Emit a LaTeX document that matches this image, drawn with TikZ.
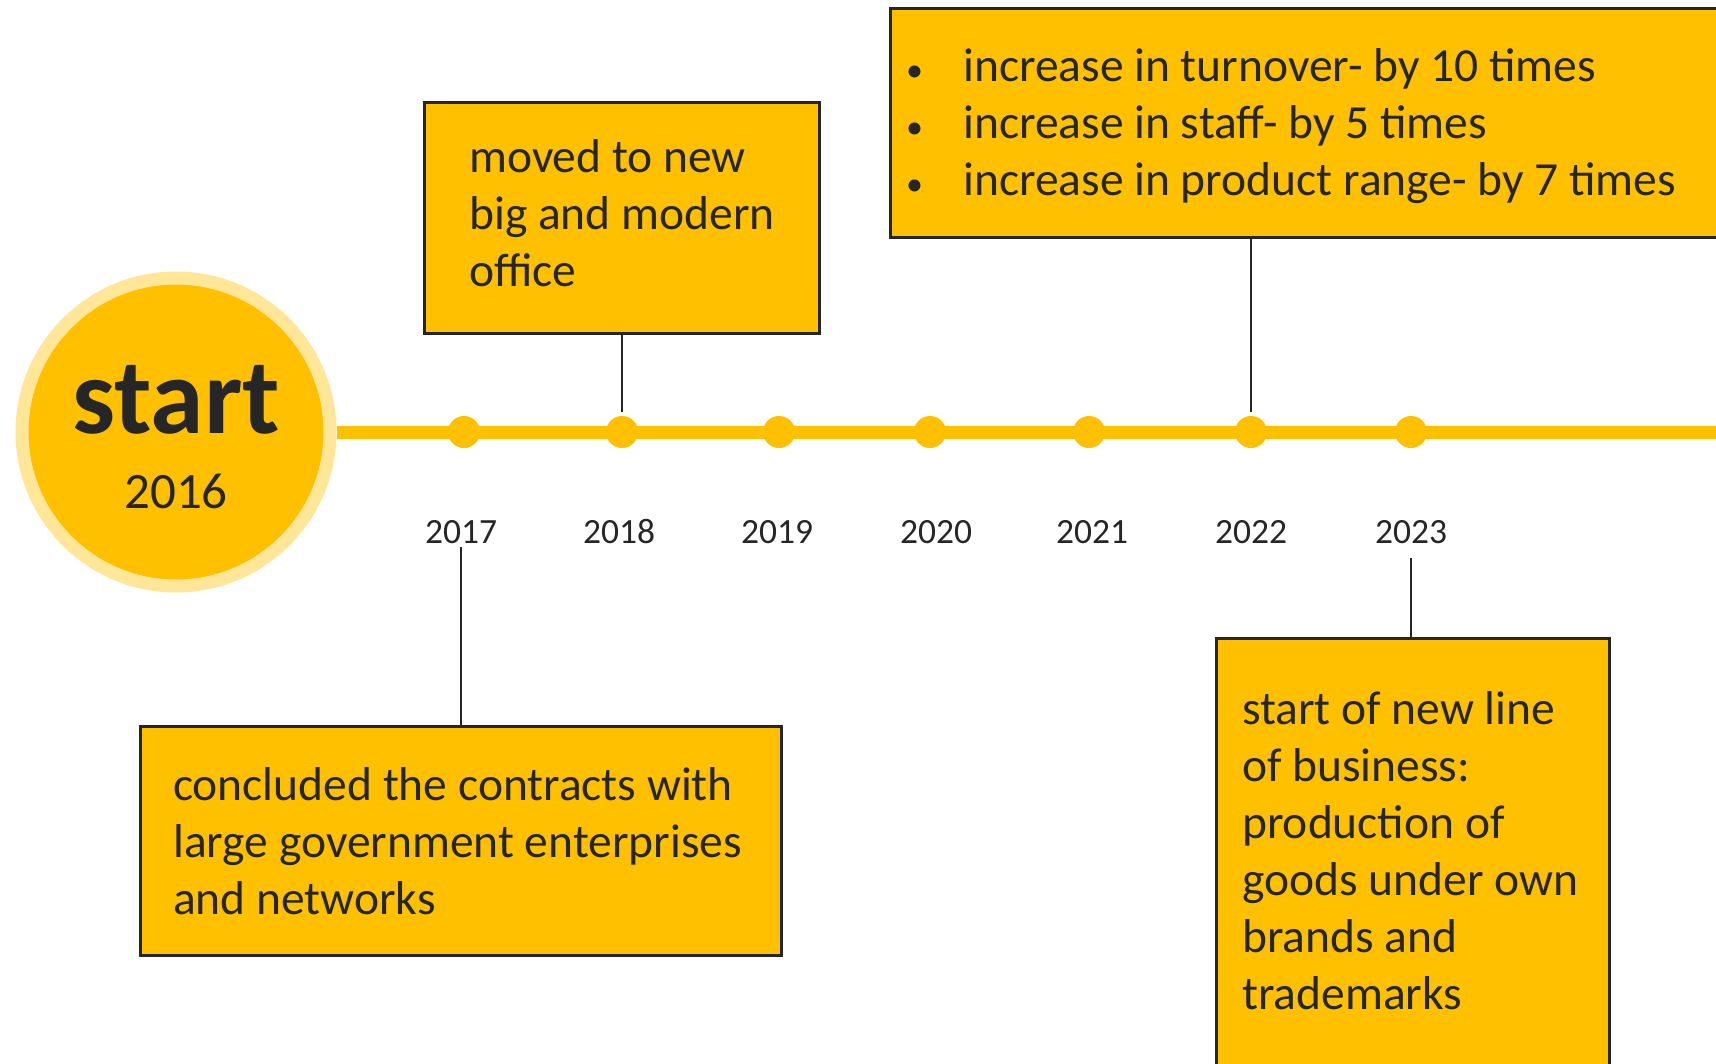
\documentclass[tikz,border=0pt]{standalone}
\usepackage{fontspec}
\setmainfont{Carlito}
\usetikzlibrary{positioning}
\definecolor{gold}{HTML}{FFC000}
\definecolor{palegold}{HTML}{FFE699}
\definecolor{ink}{HTML}{262626}
\newcommand{\evbullet}{\makebox[57pt][l]{\fontsize{34}{34}\selectfont\textbullet}}

\begin{document}
\begin{tikzpicture}[x=1pt,y=-1pt,
    evbox/.style={rectangle,draw=ink,line width=2.5pt,fill=gold,anchor=north west,inner sep=0pt},
    evtext/.style={align=left,inner sep=0pt,text=ink,font=\fontsize{47.5}{57}\selectfont},
    tdot/.style={circle,fill=gold,minimum size=32pt,inner sep=0pt},
    yearlbl/.style={anchor=base,text=ink,font=\fontsize{35.5}{40}\selectfont},
    link/.style={draw=ink,line width=2.4pt}]
	\useasboundingbox (0,0) rectangle (1716,1063);
	\clip (0,0) rectangle (1716,1063);

	% start circle
	\node[circle,fill=gold,draw=palegold,line width=13pt,minimum size=308pt,inner sep=0pt] (start) at (176,432) {};
	\node[anchor=base,text=ink,font=\fontsize{108}{110}\selectfont\bfseries] (starttxt) at (176,433) {start};
	\node[anchor=base,text=ink,font=\fontsize{51}{55}\selectfont] (startyear) at (176,508) {2016};

	% time line
	\coordinate (lineend) at (1716,432);
	\draw[gold,line width=13pt] (start.east) -- (lineend);

	\node[tdot] at (464,432)  (d2017) {};
	\node[tdot] at (622,432)  (d2018) {};
	\node[tdot] at (779,432)  (d2019) {};
	\node[tdot] at (930,432)  (d2020) {};
	\node[tdot] at (1089,432) (d2021) {};
	\node[tdot] at (1251,432) (d2022) {};
	\node[tdot] at (1411,432) (d2023) {};

	\node[yearlbl] at (461,543)  (y2017) {2017};
	\node[yearlbl] at (619,543)  (y2018) {2018};
	\node[yearlbl] at (777,543)  (y2019) {2019};
	\node[yearlbl] at (936,543)  (y2020) {2020};
	\node[yearlbl] at (1092,543) (y2021) {2021};
	\node[yearlbl] at (1251,543) (y2022) {2022};
	\node[yearlbl] at (1411,543) (y2023) {2023};

	% event boxes
	\node[evbox,minimum width=641pt,minimum height=229pt] at (139,725) (contractbox) {};
	\node[evtext,right=34pt of contractbox.west] (contracttxt)
		{concluded the contracts with\\large government enterprises\\and networks};

	\node[evbox,minimum width=395pt,minimum height=231pt] at (423,101) (officebox) {};
	\node[evtext,right=46pt of officebox.west,yshift=5pt] (officetxt)
		{moved to new\\big and modern\\office};

	\node[evbox,minimum width=900pt,minimum height=229pt] at (889,7) (growthbox) {};
	\node[evtext,right=17pt of growthbox.west,yshift=-3pt] (growthtxt)
		{\evbullet increase in turnover- by 10 times\\
		 \evbullet increase in staff- by 5 times\\
		 \evbullet increase in product range- by 7 times};

	\node[evbox,minimum width=393pt,minimum height=432pt] at (1215,637) (brandbox) {};
	\node[evtext,right=27pt of brandbox.west,yshift=4pt] (brandtxt)
		{start of new line\\of business:\\production of\\goods under own\\brands and\\trademarks};

	% links
	\draw[link] (y2017.south) -- (contractbox.north -| y2017.south);
	\draw[link] (officebox.south -| d2018) -- ([yshift=4pt]d2018.north);
	\draw[link] (growthbox.south -| d2022) -- ([yshift=4pt]d2022.north);
	\draw[link] ([yshift=-11pt]y2023.south) -- (brandbox.north -| y2023.south);
\end{tikzpicture}
\end{document}
